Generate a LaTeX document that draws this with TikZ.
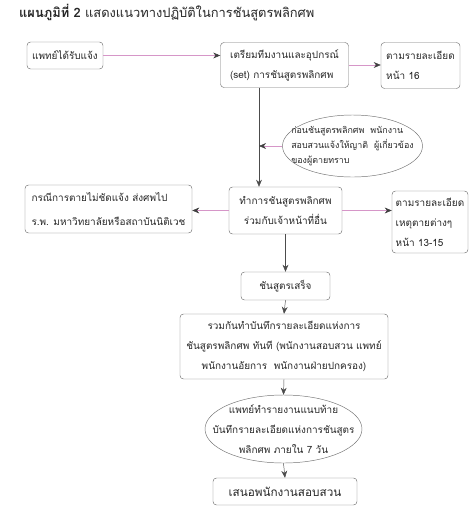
\documentclass[tikz,border=0pt]{standalone}
\usepackage{fontspec}
\newfontfamily\thai[Script=Thai]{Loma}
\usetikzlibrary{shapes.geometric, arrows.meta}
\definecolor{boxline}{gray}{0.45}
\definecolor{pinkline}{RGB}{214,150,200}
\definecolor{textc}{gray}{0.15}

\begin{document}
\begin{tikzpicture}[x=0.03cm, y=-0.03cm, thin,
    every node/.style={font=\thai\fontsize{8.5}{17}\selectfont, text=textc},
    box/.style={draw=boxline, rounded corners=3pt, inner sep=3pt},
    ellbox/.style={draw=boxline, ellipse, inner sep=0pt},
    varrow/.style={draw=black!70, -{Stealth[length=6pt, width=5pt]}},
    harrow/.style={draw=pinkline, -{Stealth[black!75, length=6pt, width=5pt]}}]
  \useasboundingbox (0,0) rectangle (475,521);

  % 1. หัวเรื่อง
  \node[anchor=west, font=\thai\fontsize{11}{13}\selectfont] (title) at (15,13)
    {\textbf{แผนภูมิที่ 2} แสดงแนวทางปฏิบัติในการชันสูตรพลิกศพ};

  % 2. แถวบน
  \node[box, minimum width=2.28cm, minimum height=0.81cm] (notify) at (65,55.5) {แพทย์ได้รับแจ้ง};
  \node[box, align=left, minimum width=3.84cm, minimum height=1.35cm] (prepare) at (284.5,65)
    {เตรียมทีมงานและอุปกรณ์\\(set) การชันสูตรพลิกศพ};
  \node[box, align=left, minimum width=2.37cm, minimum height=1.38cm] (page16) at (420.5,65.5)
    {ตามรายละเอียด\\หน้า 16};

  % 3. วงรีแจ้งญาติ
  \coordinate (axis) at (259,0);
  \node[ellbox, minimum width=4.2cm, minimum height=1.86cm] (relatives) at (352.5,146) {};
  \node[align=left, font=\thai\fontsize{7.6}{13}\selectfont] (relativestxt) at (relatives)
    {ก่อนชันสูตรพลิกศพ\ \ พนักงาน\\สอบสวนแจ้งให้ญาติ\ \ ผู้เกี่ยวข้อง\\ของผู้ตายทราบ};

  % 4. แถวกลาง
  \node[box, align=left, minimum width=5.01cm, minimum height=1.44cm,
        font=\thai\fontsize{8.5}{21}\selectfont] (forensic) at (108.5,209)
    {กรณีการตายไม่ชัดแจ้ง ส่งศพไป\\ร.พ. มหาวิทยาลัยหรือสถาบันนิติเวช};
  \node[box, align=center, minimum width=3.39cm, minimum height=1.41cm] (autopsy) at (285.5,210.5)
    {ทำการชันสูตรพลิกศพ\\ร่วมกับเจ้าหน้าที่อื่น};
  \node[box, align=left, minimum width=2.28cm, minimum height=1.86cm] (page13) at (430,222)
    {ตามรายละเอียด\\เหตุตายต่างๆ\\หน้า 13-15};

  % 5. ขั้นตอนต่อไป
  \node[box, minimum width=2.67cm, minimum height=0.84cm] (done) at (285.5,286) {ชันสูตรเสร็จ};
  \node[box, align=center, minimum width=6.24cm, minimum height=1.95cm] (record) at (284,346.5)
    {รวมกันทำบันทึกรายละเอียดแห่งการ\\ชันสูตรพลิกศพ ทันที (พนักงานสอบสวน แพทย์\\พนักงานอัยการ\ \ พนักงานฝ่ายปกครอง)};
  \node[ellbox, minimum width=4.71cm, minimum height=2.04cm] (report) at (283.5,429) {};
  \node[align=center] (reporttxt) at (report)
    {แพทย์ทำรายงานแนบท้าย\\บันทึกรายละเอียดแห่งการชันสูตร\\พลิกศพ ภายใน 7 วัน};
  \node[box, minimum width=4.32cm, minimum height=0.81cm, font=\thai\fontsize{10}{13}\selectfont] (submit) at (285,491.5)
    {เสนอพนักงานสอบสวน};

  % 6. ลูกศร
  \draw[harrow] (notify.east) -- (notify.east -| prepare.west);
  \draw[harrow] (prepare.east) -- (prepare.east -| page16.west);
  \draw[varrow] (prepare.south -| axis) -- (autopsy.north -| axis);
  \draw[harrow] (relatives.west) -- (relatives.west -| axis);
  \draw[harrow] (autopsy.west) -- (autopsy.west -| forensic.east);
  \draw[harrow] (autopsy.east) -- (autopsy.east -| page13.west);
  \draw[varrow] (autopsy.south) -- (done.north);
  \draw[varrow] (done.south) -- (record.north);
  \draw[varrow] (record.south) -- (report.north);
  \draw[varrow] (report.south) -- (submit.north);
\end{tikzpicture}
\end{document}
